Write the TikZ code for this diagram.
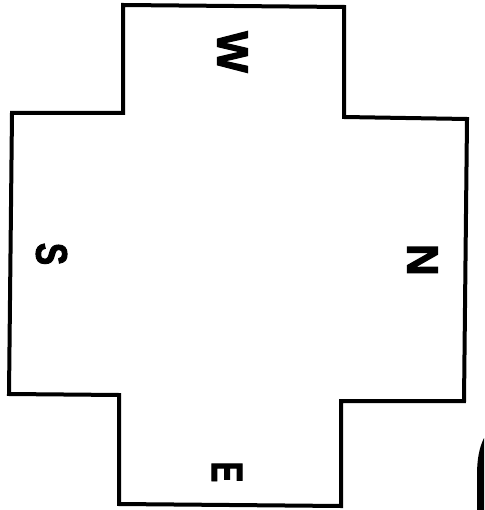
\documentclass[tikz,border=0pt]{standalone}
\usepackage{fontspec}
\setmainfont{Liberation Sans}
\newfontfamily\heavyfont{Liberation Sans Bold}[FakeBold=2.5]
\begin{document}
\begin{tikzpicture}[x=1pt,y=-1pt,
  outline/.style={line width=4pt,line join=miter,draw=black},
  dirlabel/.style={font=\heavyfont\fontsize{44}{44}\selectfont,rotate=-90,inner sep=0pt,anchor=center}]
\useasboundingbox (0,0) rectangle (484,510);
\draw[outline] (123,5) -- (344,7) -- (344,117) -- (467,119) -- (464,401) -- (341,401)
  -- (341,506) -- (119,504) -- (119,395) -- (9,394) -- (12,113) -- (123,113) -- cycle;
\node[dirlabel] (w) at (232.5,52) {W};
\node[dirlabel] (s) at (51.5,254) {\scalebox{0.76}[1]{S}};
\node[dirlabel] (e) at (227,472) {\scalebox{0.7}[1]{E}};
\node[dirlabel] (n) at (422.5,260) {N};
\fill[black] (484,438) .. controls (479,448) and (477,460) .. (477,475) -- (477,510) -- (484,510) -- cycle;
\end{tikzpicture}
\end{document}
